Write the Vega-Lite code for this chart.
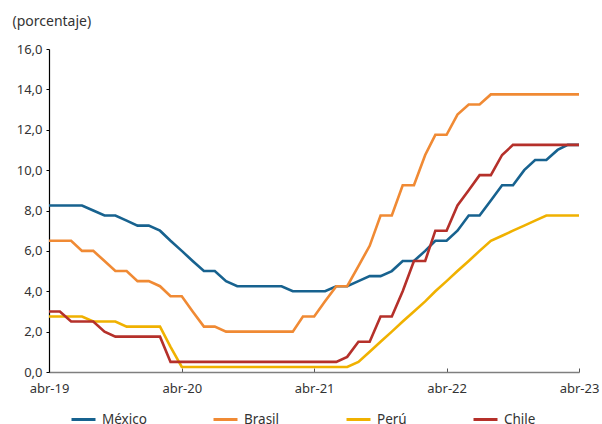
{
  "$schema": "https://vega.github.io/schema/vega-lite/v6.json",
  "autosize": {"type": "none"},
  "width": 530,
  "height": 323,
  "padding": {"left": 49, "top": 49, "right": 23, "bottom": 52},
  "background": "white",
  "config": {
    "view": {"stroke": null},
    "font": "Noto Sans",
    "axis": {"labelFont": "Noto Sans", "labelFontSize": 13, "labelColor": "#333333", "grid": false}
  },
  "data": {"values": [
    {"fecha":"2019-04-01","serie":"México","tasa":8.25},{"fecha":"2019-05-01","serie":"México","tasa":8.25},{"fecha":"2019-06-01","serie":"México","tasa":8.25},{"fecha":"2019-07-01","serie":"México","tasa":8.25},{"fecha":"2019-08-01","serie":"México","tasa":8.0},{"fecha":"2019-09-01","serie":"México","tasa":7.75},{"fecha":"2019-10-01","serie":"México","tasa":7.75},{"fecha":"2019-11-01","serie":"México","tasa":7.5},{"fecha":"2019-12-01","serie":"México","tasa":7.25},
    {"fecha":"2020-01-01","serie":"México","tasa":7.25},{"fecha":"2020-02-01","serie":"México","tasa":7.0},{"fecha":"2020-03-01","serie":"México","tasa":6.5},{"fecha":"2020-04-01","serie":"México","tasa":6.0},{"fecha":"2020-05-01","serie":"México","tasa":5.5},{"fecha":"2020-06-01","serie":"México","tasa":5.0},{"fecha":"2020-07-01","serie":"México","tasa":5.0},{"fecha":"2020-08-01","serie":"México","tasa":4.5},{"fecha":"2020-09-01","serie":"México","tasa":4.25},{"fecha":"2020-10-01","serie":"México","tasa":4.25},{"fecha":"2020-11-01","serie":"México","tasa":4.25},{"fecha":"2020-12-01","serie":"México","tasa":4.25},
    {"fecha":"2021-01-01","serie":"México","tasa":4.25},{"fecha":"2021-02-01","serie":"México","tasa":4.0},{"fecha":"2021-03-01","serie":"México","tasa":4.0},{"fecha":"2021-04-01","serie":"México","tasa":4.0},{"fecha":"2021-05-01","serie":"México","tasa":4.0},{"fecha":"2021-06-01","serie":"México","tasa":4.25},{"fecha":"2021-07-01","serie":"México","tasa":4.25},{"fecha":"2021-08-01","serie":"México","tasa":4.5},{"fecha":"2021-09-01","serie":"México","tasa":4.75},{"fecha":"2021-10-01","serie":"México","tasa":4.75},{"fecha":"2021-11-01","serie":"México","tasa":5.0},{"fecha":"2021-12-01","serie":"México","tasa":5.5},
    {"fecha":"2022-01-01","serie":"México","tasa":5.5},{"fecha":"2022-02-01","serie":"México","tasa":6.0},{"fecha":"2022-03-01","serie":"México","tasa":6.5},{"fecha":"2022-04-01","serie":"México","tasa":6.5},{"fecha":"2022-05-01","serie":"México","tasa":7.0},{"fecha":"2022-06-01","serie":"México","tasa":7.75},{"fecha":"2022-07-01","serie":"México","tasa":7.75},{"fecha":"2022-08-01","serie":"México","tasa":8.5},{"fecha":"2022-09-01","serie":"México","tasa":9.25},{"fecha":"2022-10-01","serie":"México","tasa":9.25},{"fecha":"2022-11-01","serie":"México","tasa":10.0},{"fecha":"2022-12-01","serie":"México","tasa":10.5},
    {"fecha":"2023-01-01","serie":"México","tasa":10.5},{"fecha":"2023-02-01","serie":"México","tasa":11.0},{"fecha":"2023-03-01","serie":"México","tasa":11.25},{"fecha":"2023-04-01","serie":"México","tasa":11.25},

    {"fecha":"2019-04-01","serie":"Brasil","tasa":6.5},{"fecha":"2019-05-01","serie":"Brasil","tasa":6.5},{"fecha":"2019-06-01","serie":"Brasil","tasa":6.5},{"fecha":"2019-07-01","serie":"Brasil","tasa":6.0},{"fecha":"2019-08-01","serie":"Brasil","tasa":6.0},{"fecha":"2019-09-01","serie":"Brasil","tasa":5.5},{"fecha":"2019-10-01","serie":"Brasil","tasa":5.0},{"fecha":"2019-11-01","serie":"Brasil","tasa":5.0},{"fecha":"2019-12-01","serie":"Brasil","tasa":4.5},
    {"fecha":"2020-01-01","serie":"Brasil","tasa":4.5},{"fecha":"2020-02-01","serie":"Brasil","tasa":4.25},{"fecha":"2020-03-01","serie":"Brasil","tasa":3.75},{"fecha":"2020-04-01","serie":"Brasil","tasa":3.75},{"fecha":"2020-05-01","serie":"Brasil","tasa":3.0},{"fecha":"2020-06-01","serie":"Brasil","tasa":2.25},{"fecha":"2020-07-01","serie":"Brasil","tasa":2.25},{"fecha":"2020-08-01","serie":"Brasil","tasa":2.0},{"fecha":"2020-09-01","serie":"Brasil","tasa":2.0},{"fecha":"2020-10-01","serie":"Brasil","tasa":2.0},{"fecha":"2020-11-01","serie":"Brasil","tasa":2.0},{"fecha":"2020-12-01","serie":"Brasil","tasa":2.0},
    {"fecha":"2021-01-01","serie":"Brasil","tasa":2.0},{"fecha":"2021-02-01","serie":"Brasil","tasa":2.0},{"fecha":"2021-03-01","serie":"Brasil","tasa":2.75},{"fecha":"2021-04-01","serie":"Brasil","tasa":2.75},{"fecha":"2021-05-01","serie":"Brasil","tasa":3.5},{"fecha":"2021-06-01","serie":"Brasil","tasa":4.25},{"fecha":"2021-07-01","serie":"Brasil","tasa":4.25},{"fecha":"2021-08-01","serie":"Brasil","tasa":5.25},{"fecha":"2021-09-01","serie":"Brasil","tasa":6.25},{"fecha":"2021-10-01","serie":"Brasil","tasa":7.75},{"fecha":"2021-11-01","serie":"Brasil","tasa":7.75},{"fecha":"2021-12-01","serie":"Brasil","tasa":9.25},
    {"fecha":"2022-01-01","serie":"Brasil","tasa":9.25},{"fecha":"2022-02-01","serie":"Brasil","tasa":10.75},{"fecha":"2022-03-01","serie":"Brasil","tasa":11.75},{"fecha":"2022-04-01","serie":"Brasil","tasa":11.75},{"fecha":"2022-05-01","serie":"Brasil","tasa":12.75},{"fecha":"2022-06-01","serie":"Brasil","tasa":13.25},{"fecha":"2022-07-01","serie":"Brasil","tasa":13.25},{"fecha":"2022-08-01","serie":"Brasil","tasa":13.75},{"fecha":"2022-09-01","serie":"Brasil","tasa":13.75},{"fecha":"2022-10-01","serie":"Brasil","tasa":13.75},{"fecha":"2022-11-01","serie":"Brasil","tasa":13.75},{"fecha":"2022-12-01","serie":"Brasil","tasa":13.75},
    {"fecha":"2023-01-01","serie":"Brasil","tasa":13.75},{"fecha":"2023-02-01","serie":"Brasil","tasa":13.75},{"fecha":"2023-03-01","serie":"Brasil","tasa":13.75},{"fecha":"2023-04-01","serie":"Brasil","tasa":13.75},

    {"fecha":"2019-04-01","serie":"Perú","tasa":2.75},{"fecha":"2019-05-01","serie":"Perú","tasa":2.75},{"fecha":"2019-06-01","serie":"Perú","tasa":2.75},{"fecha":"2019-07-01","serie":"Perú","tasa":2.75},{"fecha":"2019-08-01","serie":"Perú","tasa":2.5},{"fecha":"2019-09-01","serie":"Perú","tasa":2.5},{"fecha":"2019-10-01","serie":"Perú","tasa":2.5},{"fecha":"2019-11-01","serie":"Perú","tasa":2.25},{"fecha":"2019-12-01","serie":"Perú","tasa":2.25},
    {"fecha":"2020-01-01","serie":"Perú","tasa":2.25},{"fecha":"2020-02-01","serie":"Perú","tasa":2.25},{"fecha":"2020-03-01","serie":"Perú","tasa":1.25},{"fecha":"2020-04-01","serie":"Perú","tasa":0.25},{"fecha":"2020-05-01","serie":"Perú","tasa":0.25},{"fecha":"2020-06-01","serie":"Perú","tasa":0.25},{"fecha":"2020-07-01","serie":"Perú","tasa":0.25},{"fecha":"2020-08-01","serie":"Perú","tasa":0.25},{"fecha":"2020-09-01","serie":"Perú","tasa":0.25},{"fecha":"2020-10-01","serie":"Perú","tasa":0.25},{"fecha":"2020-11-01","serie":"Perú","tasa":0.25},{"fecha":"2020-12-01","serie":"Perú","tasa":0.25},
    {"fecha":"2021-01-01","serie":"Perú","tasa":0.25},{"fecha":"2021-02-01","serie":"Perú","tasa":0.25},{"fecha":"2021-03-01","serie":"Perú","tasa":0.25},{"fecha":"2021-04-01","serie":"Perú","tasa":0.25},{"fecha":"2021-05-01","serie":"Perú","tasa":0.25},{"fecha":"2021-06-01","serie":"Perú","tasa":0.25},{"fecha":"2021-07-01","serie":"Perú","tasa":0.25},{"fecha":"2021-08-01","serie":"Perú","tasa":0.5},{"fecha":"2021-09-01","serie":"Perú","tasa":1.0},{"fecha":"2021-10-01","serie":"Perú","tasa":1.5},{"fecha":"2021-11-01","serie":"Perú","tasa":2.0},{"fecha":"2021-12-01","serie":"Perú","tasa":2.5},
    {"fecha":"2022-01-01","serie":"Perú","tasa":3.0},{"fecha":"2022-02-01","serie":"Perú","tasa":3.5},{"fecha":"2022-03-01","serie":"Perú","tasa":4.0},{"fecha":"2022-04-01","serie":"Perú","tasa":4.5},{"fecha":"2022-05-01","serie":"Perú","tasa":5.0},{"fecha":"2022-06-01","serie":"Perú","tasa":5.5},{"fecha":"2022-07-01","serie":"Perú","tasa":6.0},{"fecha":"2022-08-01","serie":"Perú","tasa":6.5},{"fecha":"2022-09-01","serie":"Perú","tasa":6.75},{"fecha":"2022-10-01","serie":"Perú","tasa":7.0},{"fecha":"2022-11-01","serie":"Perú","tasa":7.25},{"fecha":"2022-12-01","serie":"Perú","tasa":7.5},
    {"fecha":"2023-01-01","serie":"Perú","tasa":7.75},{"fecha":"2023-02-01","serie":"Perú","tasa":7.75},{"fecha":"2023-03-01","serie":"Perú","tasa":7.75},{"fecha":"2023-04-01","serie":"Perú","tasa":7.75},

    {"fecha":"2019-04-01","serie":"Chile","tasa":3.0},{"fecha":"2019-05-01","serie":"Chile","tasa":3.0},{"fecha":"2019-06-01","serie":"Chile","tasa":2.5},{"fecha":"2019-07-01","serie":"Chile","tasa":2.5},{"fecha":"2019-08-01","serie":"Chile","tasa":2.5},{"fecha":"2019-09-01","serie":"Chile","tasa":2.0},{"fecha":"2019-10-01","serie":"Chile","tasa":1.75},{"fecha":"2019-11-01","serie":"Chile","tasa":1.75},{"fecha":"2019-12-01","serie":"Chile","tasa":1.75},
    {"fecha":"2020-01-01","serie":"Chile","tasa":1.75},{"fecha":"2020-02-01","serie":"Chile","tasa":1.75},{"fecha":"2020-03-01","serie":"Chile","tasa":0.5},{"fecha":"2020-04-01","serie":"Chile","tasa":0.5},{"fecha":"2020-05-01","serie":"Chile","tasa":0.5},{"fecha":"2020-06-01","serie":"Chile","tasa":0.5},{"fecha":"2020-07-01","serie":"Chile","tasa":0.5},{"fecha":"2020-08-01","serie":"Chile","tasa":0.5},{"fecha":"2020-09-01","serie":"Chile","tasa":0.5},{"fecha":"2020-10-01","serie":"Chile","tasa":0.5},{"fecha":"2020-11-01","serie":"Chile","tasa":0.5},{"fecha":"2020-12-01","serie":"Chile","tasa":0.5},
    {"fecha":"2021-01-01","serie":"Chile","tasa":0.5},{"fecha":"2021-02-01","serie":"Chile","tasa":0.5},{"fecha":"2021-03-01","serie":"Chile","tasa":0.5},{"fecha":"2021-04-01","serie":"Chile","tasa":0.5},{"fecha":"2021-05-01","serie":"Chile","tasa":0.5},{"fecha":"2021-06-01","serie":"Chile","tasa":0.5},{"fecha":"2021-07-01","serie":"Chile","tasa":0.75},{"fecha":"2021-08-01","serie":"Chile","tasa":1.5},{"fecha":"2021-09-01","serie":"Chile","tasa":1.5},{"fecha":"2021-10-01","serie":"Chile","tasa":2.75},{"fecha":"2021-11-01","serie":"Chile","tasa":2.75},{"fecha":"2021-12-01","serie":"Chile","tasa":4.0},
    {"fecha":"2022-01-01","serie":"Chile","tasa":5.5},{"fecha":"2022-02-01","serie":"Chile","tasa":5.5},{"fecha":"2022-03-01","serie":"Chile","tasa":7.0},{"fecha":"2022-04-01","serie":"Chile","tasa":7.0},{"fecha":"2022-05-01","serie":"Chile","tasa":8.25},{"fecha":"2022-06-01","serie":"Chile","tasa":9.0},{"fecha":"2022-07-01","serie":"Chile","tasa":9.75},{"fecha":"2022-08-01","serie":"Chile","tasa":9.75},{"fecha":"2022-09-01","serie":"Chile","tasa":10.75},{"fecha":"2022-10-01","serie":"Chile","tasa":11.25},{"fecha":"2022-11-01","serie":"Chile","tasa":11.25},{"fecha":"2022-12-01","serie":"Chile","tasa":11.25},
    {"fecha":"2023-01-01","serie":"Chile","tasa":11.25},{"fecha":"2023-02-01","serie":"Chile","tasa":11.25},{"fecha":"2023-03-01","serie":"Chile","tasa":11.25},{"fecha":"2023-04-01","serie":"Chile","tasa":11.25}
  ]},
  "mark": {"type": "line", "strokeWidth": 2.6, "interpolate": "linear"},
  "encoding": {
    "x": {
      "field": "fecha", "type": "temporal",
      "scale": {"type": "utc", "domain": [{"year": 2019, "month": 4, "date": 1, "utc": true}, {"year": 2023, "month": 4, "date": 1, "utc": true}]},
      "axis": {
        "title": null,
        "values": [
          {"year": 2019, "month": 4, "date": 1, "utc": true},
          {"year": 2020, "month": 4, "date": 1, "utc": true},
          {"year": 2021, "month": 4, "date": 1, "utc": true},
          {"year": 2022, "month": 4, "date": 1, "utc": true},
          {"year": 2023, "month": 4, "date": 1, "utc": true}
        ],
        "labelExpr": "'abr-' + utcFormat(datum.value, '%y')",
        "domainColor": "#7f7f7f", "domainWidth": 1.5,
        "tickColor": "#555555", "tickSize": -4, "tickWidth": 1,
        "labelPadding": 14, "labelFlush": false, "labelOverlap": false
      }
    },
    "y": {
      "field": "tasa", "type": "quantitative",
      "scale": {"domain": [0, 16], "nice": false, "zero": true},
      "axis": {
        "values": [0, 2, 4, 6, 8, 10, 12, 14, 16],
        "labelExpr": "replace(format(datum.value, '.1f'), '.', ',')",
        "title": "(porcentaje)", "titleAngle": 0, "titleX": -37, "titleY": -28,
        "titleAlign": "left", "titleBaseline": "middle",
        "titleFont": "Noto Sans", "titleFontSize": 14, "titleFontWeight": "normal", "titleColor": "#333333",
        "domainColor": "#000000", "domainWidth": 1.2,
        "tickColor": "#000000", "tickSize": 3, "labelPadding": 4
      }
    },
    "color": {
      "field": "serie", "type": "nominal",
      "scale": {"domain": ["México", "Brasil", "Perú", "Chile"], "range": ["#17628f", "#f08a34", "#f0b100", "#b5302a"]},
      "legend": {
        "title": null, "orient": "none", "direction": "horizontal",
        "legendX": 21, "legendY": 357,
        "symbolType": "stroke", "symbolSize": 576, "symbolStrokeWidth": 3,
        "labelFont": "Noto Sans", "labelFontSize": 13.5, "labelColor": "#333333",
        "labelOffset": 5, "columnPadding": 60, "gridAlign": "none", "padding": 0
      }
    }
  }
}
